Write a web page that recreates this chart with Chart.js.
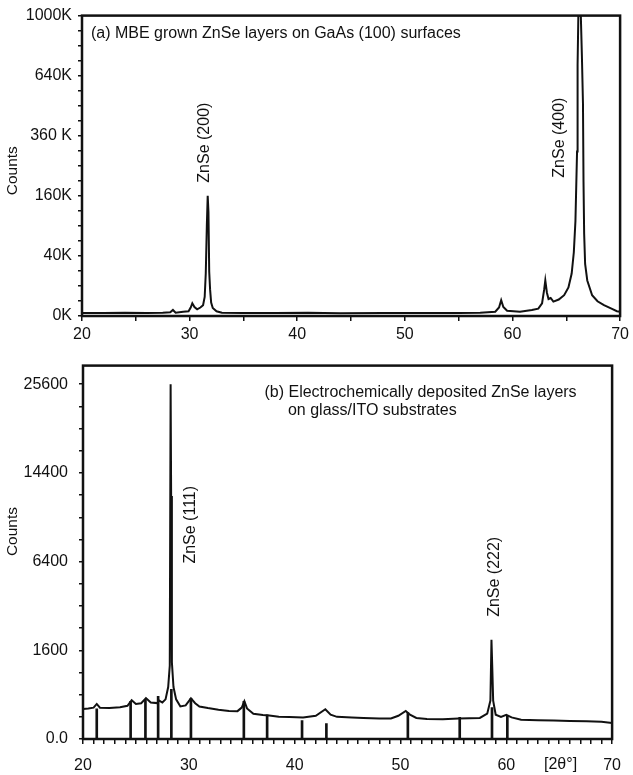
<!DOCTYPE html>
<html lang="en">
<head>
<meta charset="UTF-8">
<title>XRD ZnSe layers</title>
<script src="https://cdn.jsdelivr.net/npm/chart.js"></script>
<style>
  body { margin: 0; background: #fff; }
  .panel { position: absolute; left: 0; width: 633px; }
</style>
</head>
<body>
<div class="panel" style="top:0;height:345px"><canvas id="topChart" width="633" height="345"></canvas></div>
<div class="panel" style="top:345px;height:430px"><canvas id="bottomChart" width="633" height="430"></canvas></div>
<script>
// (a) MBE ZnSe on GaAs (100) - 2theta in degrees, counts in K
var topTheta = [20, 22, 24, 26, 27.5, 28.2, 28.45, 28.7, 29.4, 29.9, 30.1, 30.25, 30.45, 30.7, 31.0, 31.25, 31.4, 31.5, 31.6, 31.68, 31.75, 31.82, 31.9, 32.0, 32.15, 32.5, 33, 35, 38, 41, 44, 48, 52, 55, 57, 58.4, 58.75, 58.95, 59.15, 59.5, 60.7, 61.8, 62.4, 62.75, 62.95, 63.05, 63.2, 63.35, 63.55, 63.8, 64.3, 64.8, 65.2, 65.5, 65.7, 65.85, 66.0, 66.05, 66.12, 66.35, 66.45, 66.55, 66.6, 66.66, 66.75, 66.95, 67.4, 67.9, 68.5, 69.2, 69.7, 70];
var topCounts = [0.1, 0.1, 0.12, 0.1, 0.12, 0.15, 0.4, 0.12, 0.2, 0.25, 0.8, 1.8, 0.9, 0.5, 0.8, 1.3, 4, 20, 90, 160, 120, 22, 8, 2, 0.7, 0.25, 0.12, 0.1, 0.1, 0.12, 0.08, 0.1, 0.1, 0.1, 0.12, 0.2, 0.8, 2.8, 0.9, 0.3, 0.2, 0.4, 0.6, 1.8, 8, 14, 6, 3.2, 3.6, 2.3, 3, 4.8, 9, 20, 45, 100, 300, 700, 1000, 1000, 750, 500, 200, 75, 30, 14, 4.8, 2.4, 1.3, 0.6, 0.25, 0.2];
var topTickValues = [0, 40, 160, 360, 640, 1000];
var topTickLabels = ['0K', '40K', '160K', '360 K', '640K', '1000K'];

// (b) electrochemically deposited ZnSe on glass/ITO - counts
var botTheta = [20.0, 20.5, 21.0, 21.3, 21.6, 22.5, 23.5, 24.2, 24.6, 25.0, 25.5, 25.95, 26.4, 27.0, 27.2, 27.5, 27.8, 28.05, 28.2, 28.28, 28.33, 28.4, 28.55, 28.8, 29.2, 29.7, 30.2, 30.6, 31.0, 31.8, 32.8, 33.8, 34.6, 35.0, 35.25, 35.5, 36.1, 37.0, 37.6, 38.5, 39.5, 40.8, 42.0, 42.9, 43.4, 44.0, 45.4, 46.5, 48.0, 49.1, 49.8, 50.5, 50.9, 51.5, 52.5, 54.0, 55.5, 57.5, 58.2, 58.5, 58.6, 58.68, 58.76, 59.0, 59.5, 60.0, 60.5, 61.4, 63.0, 64.5, 66.0, 67.6, 69.0, 70.0];
var botCounts = [184, 190, 200, 250, 200, 196, 205, 225, 305, 250, 260, 340, 270, 262, 300, 270, 320, 550, 1100, 25600, 12000, 1200, 550, 320, 215, 230, 335, 260, 215, 195, 175, 160, 158, 200, 290, 190, 130, 118, 112, 100, 98, 95, 110, 180, 120, 100, 95, 90, 85, 85, 110, 160, 120, 90, 82, 80, 85, 90, 130, 300, 2000, 1000, 300, 120, 100, 119, 95, 76, 72, 69, 66, 64, 60, 52];
// reference stick pattern
var stickTheta = [21.3, 24.5, 25.9, 27.1, 28.35, 30.2, 35.2, 37.4, 40.7, 43.0, 50.7, 55.6, 58.65, 60.1];
var stickCounts = [184, 290, 320, 370, 500, 335, 290, 119, 69, 49, 142, 95, 200, 110];
var botTickValues = [0, 1600, 6400, 14400, 25600];
var botTickLabels = ['0.0', '1600', '6400', '14400', '25600'];
var botMax = 28360;

Chart.defaults.font.family = '"Liberation Sans", Arial, sans-serif';
Chart.defaults.font.size = 16;
Chart.defaults.color = '#111';

function sqrtPoints(xs, ys) {
    return xs.map(function (x, i) { return { x: x, y: Math.sqrt(ys[i]) }; });
}

// square-root axis: majors at the given values, 3 minor ticks between
function sqrtTicks(values, labels) {
    var out = [];
    for (var i = 0; i < values.length; i++) {
        var a = Math.sqrt(values[i]);
        out.push({ value: a, lbl: labels[i] });
        if (i < values.length - 1) {
            var b = Math.sqrt(values[i + 1]);
            for (var k = 1; k < 4; k++) out.push({ value: a + (b - a) * k / 4, lbl: '' });
        }
    }
    return out;
}

var panelText = {
    id: 'panelText',
    afterDraw: function (chart, args, opts) {
        var ctx = chart.ctx, a = chart.chartArea;
        var xs = chart.scales.x, ys = chart.scales.y;
        ctx.save();
        ctx.strokeStyle = '#111';
        ctx.lineWidth = 2.5;
        ctx.strokeRect(a.left, a.top, a.right - a.left, a.bottom - a.top);
        ctx.fillStyle = '#111';
        opts.items.forEach(function (t) {
            var px = t.x !== undefined ? xs.getPixelForValue(t.x) : t.left;
            var py = t.y !== undefined ? ys.getPixelForValue(Math.sqrt(t.y)) : a.bottom + t.below;
            ctx.save();
            ctx.font = (t.size || 16) + 'px "Liberation Sans", Arial, sans-serif';
            ctx.textBaseline = 'middle';
            ctx.textAlign = t.align || 'left';
            ctx.translate(px, py);
            if (t.rotate) ctx.rotate(-Math.PI / 2);
            ctx.fillText(t.text, 0, 0);
            ctx.restore();
        });
        ctx.restore();
    }
};

function xAxis(step, labelPad, height) {
    return {
        type: 'linear', min: 20, max: 70, offset: false,
        border: { display: false },
        grid: { display: true, drawOnChartArea: false, offset: false, tickLength: 5, color: '#111', lineWidth: 1.5 },
        ticks: {
            stepSize: step, autoSkip: false, maxRotation: 0, padding: labelPad,
            callback: function (v) { return v % 10 === 0 ? String(v) : ''; }
        },
        afterFit: function (s) { s.height = height; }
    };
}

function yAxis(values, labels, maxVal, labelPad, width) {
    return {
        type: 'linear', min: 0, max: Math.sqrt(maxVal),
        border: { display: false },
        grid: { display: true, drawOnChartArea: false, tickLength: 4, color: '#111', lineWidth: 1.5 },
        ticks: {
            autoSkip: false, padding: labelPad,
            callback: function (v, i, ticks) { return ticks[i].lbl; }
        },
        afterBuildTicks: function (s) { s.ticks = sqrtTicks(values, labels); },
        afterFit: function (s) { s.width = width; }
    };
}

new Chart(document.getElementById('topChart'), {
    type: 'line',
    data: {
        datasets: [{
            data: sqrtPoints(topTheta, topCounts),
            borderColor: '#111', borderWidth: 2, pointRadius: 0, tension: 0
        }]
    },
    options: {
        responsive: false, animation: false,
        layout: { padding: { top: 12, right: 10, left: 0, bottom: 0 } },
        plugins: {
            legend: { display: false }, tooltip: { enabled: false },
            panelText: {
                items: [
                    { text: '(a) MBE grown ZnSe layers on GaAs (100) surfaces', x: 20.83, y: 884 },
                    { text: 'ZnSe (200)', x: 31.37, y: 197, rotate: true },
                    { text: 'ZnSe (400)', x: 64.36, y: 212, rotate: true },
                    { text: 'Counts', left: 13, y: 234, rotate: true, align: 'center', size: 15.5 }
                ]
            }
        },
        scales: {
            x: xAxis(5, 4, 29),
            y: yAxis(topTickValues, topTickLabels, 1000, 6, 82)
        }
    },
    plugins: [panelText]
});

new Chart(document.getElementById('bottomChart'), {
    type: 'line',
    data: {
        datasets: [{
            type: 'line',
            data: sqrtPoints(botTheta, botCounts),
            borderColor: '#111', borderWidth: 2, pointRadius: 0, tension: 0
        }, {
            type: 'bar',
            data: sqrtPoints(stickTheta, stickCounts),
            backgroundColor: '#111', barThickness: 2, borderWidth: 0
        }]
    },
    options: {
        responsive: false, animation: false,
        layout: { padding: { top: 9, right: 10, left: 0, bottom: 0 } },
        plugins: {
            legend: { display: false }, tooltip: { enabled: false },
            panelText: {
                items: [
                    { text: '(b) Electrochemically deposited ZnSe layers', x: 37.15, y: 24370 },
                    { text: 'on glass/ITO substrates', x: 39.37, y: 21965 },
                    { text: 'ZnSe (111)', x: 30.19, y: 6260, rotate: true },
                    { text: 'ZnSe (222)', x: 58.93, y: 3035, rotate: true },
                    { text: 'Counts', left: 13, y: 8755, rotate: true, align: 'center', size: 15.5 },
                    { text: '[2\u03b8\u00b0]', x: 65.13, below: 26, align: 'center' }
                ]
            }
        },
        scales: {
            x: xAxis(1, 12, 36),
            y: yAxis(botTickValues, botTickLabels, botMax, 11, 83)
        }
    },
    plugins: [panelText]
});
</script>
</body>
</html>
